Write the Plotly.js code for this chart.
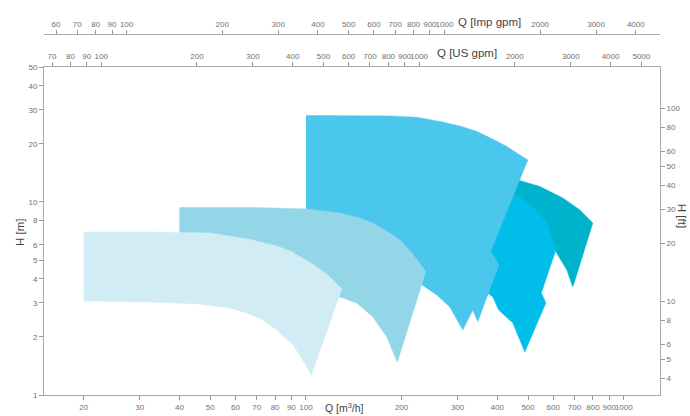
<!DOCTYPE html>
<html>
<head>
<meta charset="utf-8">
<script src="https://cdn.plot.ly/plotly-3.0.1.min.js"></script>
<style>html,body{margin:0;padding:0;background:#fff;}#chart{width:690px;height:416px;}</style>
</head>
<body>
<div id="chart"></div>
<script>
// Pump range outlines: Q [m3/h], H [m]
var Q1 = [20, 32.3, 49.8, 66.6, 81.0, 90.9, 93.6, 105.1, 110.6, 117.2, 129.7, 104, 100.6, 95.7, 90.9, 81.0, 73.2, 65.1, 57.6, 46.4, 32.3, 20];
var H1 = [6.99, 6.99, 6.91, 6.40, 5.92, 5.51, 5.31, 4.77, 4.48, 4.19, 3.54, 1.27, 1.40, 1.61, 1.82, 2.17, 2.45, 2.66, 2.82, 2.96, 3.03, 3.07];

var Q2 = [40, 66.6, 100, 127.8, 147.7, 162.3, 179.7, 197.4, 216.9, 238.3, 193.9, 179.7, 162.3, 144.5, 127.8, 110.6, 95.7, 66.6, 40];
var H2 = [9.37, 9.37, 9.20, 8.77, 8.26, 7.78, 7.07, 6.36, 5.38, 4.36, 1.48, 2.00, 2.54, 3.00, 3.22, 3.63, 4.19, 4.89, 5.31];

var Q3 = [100, 183.6, 222.8, 263.8, 304.9, 344.9, 388.1, 428.5, 470.9, 499, 381.7, 404.5, 347.4, 335.0, 311.6, 283.6, 258.1, 231.5, 204.7, 170.8, 127.8, 100];
var H3 = [28.07, 27.9, 27.47, 26.13, 24.77, 23.19, 21.13, 19.39, 17.52, 16.5, 5.57, 4.72, 2.40, 2.76, 2.17, 2.86, 3.30, 3.72, 4.29, 5.13, 5.99, 6.36];

var Q4 = [245.3, 352.5, 447.6, 517.4, 572.7, 598.3, 611.3, 550.4, 568.6, 488.3, 447.6, 404.0, 387.3, 352.5, 245.3];
var H4 = [11.54, 11.54, 11.13, 9.48, 7.78, 6.36, 5.64, 3.38, 3.00, 1.67, 2.36, 2.76, 3.22, 3.63, 4.89];

var Q5 = [327.8, 464.2, 544.4, 643.0, 727.4, 799.0, 691.5, 662.0, 606.9, 544.4, 438.0, 327.8];
var H5 = [12.85, 13.0, 12.03, 10.49, 9.09, 7.78, 3.63, 4.44, 5.64, 6.75, 7.60, 9.65];

var colors = ['#d1ecf4', '#93d6e8', '#4bc6ec', '#00bee9', '#00b3cc'];

// Tick labels
var qTicks = [20, 30, 40, 50, 60, 70, 80, 90, 100, 200, 300, 400, 500, 600, 700, 800, 900, 1000];
var usTicks = [70, 80, 90, 100, 200, 300, 400, 500, 600, 700, 800, 900, 1000, 2000, 3000, 4000, 5000];
var impTicks = [60, 70, 80, 90, 100, 200, 300, 400, 500, 600, 700, 800, 900, 1000, 2000, 3000, 4000];
var hTicks = [1, 2, 3, 4, 5, 6, 8, 10, 20, 30, 40, 50];
var ftTicks = [4, 5, 6, 8, 10, 20, 30, 40, 50, 60, 80, 100];

var Q_MIN = 15, Q_MAX = 1300, H_MIN = 1, H_MAX = 50;
var US = 4.40287, IMP = 3.66615, FT = 0.3048;

var L = Math.log10;
var shapes = [[Q5, H5], [Q4, H4], [Q3, H3], [Q2, H2], [Q1, H1]];
var shapeColors = [colors[4], colors[3], colors[2], colors[1], colors[0]];
var data = shapes.map(function (s, i) {
  return {
    type: 'scatter', mode: 'lines', x: s[0], y: s[1], fill: 'toself',
    fillcolor: shapeColors[i], line: {width: 0.5, color: shapeColors[i]},
    hoverinfo: 'skip', showlegend: false
  };
});
data.push({type: 'scatter', mode: 'lines', x: [], y: [], xaxis: 'x2', yaxis: 'y', showlegend: false});
data.push({type: 'scatter', mode: 'lines', x: [], y: [], xaxis: 'x3', yaxis: 'y', showlegend: false});
data.push({type: 'scatter', mode: 'lines', x: [], y: [], xaxis: 'x', yaxis: 'y2', showlegend: false});

var tickFont = {family: 'Liberation Sans, Arial, sans-serif', size: 8, color: '#6f6f6f'};
var titleFont = {family: 'Liberation Sans, Arial, sans-serif', size: 11.5, color: '#444'};
var axisCommon = {
  type: 'log', showgrid: false, zeroline: false, showline: true, linecolor: '#aaa', linewidth: 1,
  ticks: 'outside', ticklen: 4, tickcolor: '#999', tickfont: tickFont, tickmode: 'array', tickangle: 0
};
function ax(extra) { return Object.assign({}, axisCommon, extra); }
var TOP = 0.841;

var layout = {
  width: 690, height: 416,
  margin: {l: 44, r: 30, t: 5, b: 21},
  paper_bgcolor: '#fff', plot_bgcolor: '#fff',
  showlegend: false,
  xaxis: ax({range: [L(Q_MIN), L(Q_MAX)], tickvals: qTicks, ticktext: qTicks.map(String), anchor: 'y'}),
  xaxis2: ax({range: [L(Q_MIN * US), L(Q_MAX * US)], tickvals: usTicks, ticktext: usTicks.map(String),
    overlaying: 'x', side: 'top', anchor: 'y'}),
  xaxis3: ax({range: [L(Q_MIN * IMP), L(Q_MAX * IMP)], tickvals: impTicks, ticktext: impTicks.map(String),
    overlaying: 'x', side: 'top', anchor: 'free', position: 0.9256}),
  yaxis: ax({range: [L(H_MIN), L(H_MAX)], tickvals: hTicks, ticktext: hTicks.map(String), domain: [0, TOP], anchor: 'x'}),
  yaxis2: ax({range: [L(H_MIN / FT), L(H_MAX / FT)], tickvals: ftTicks, ticktext: ftTicks.map(String),
    overlaying: 'y', side: 'right', anchor: 'x'}),
  annotations: [
    {text: 'Q [m<sup>3</sup>/h]', xref: 'paper', yref: 'paper', x: 0.4886, y: -0.031, xanchor: 'center', yanchor: 'middle', showarrow: false, font: {family: titleFont.family, size: 10.5, color: '#444'}},
    {text: 'Q [US gpm]', xref: 'paper', yref: 'paper', x: 0.6867, y: 0.8769, xanchor: 'center', yanchor: 'middle', showarrow: false, font: titleFont},
    {text: 'Q [Imp gpm]', xref: 'paper', yref: 'paper', x: 0.724, y: 0.957, xanchor: 'center', yanchor: 'middle', showarrow: false, font: titleFont},
    {text: 'H [m]', xref: 'paper', yref: 'paper', x: -0.039, y: 0.418, xanchor: 'center', yanchor: 'middle', textangle: -90, showarrow: false, font: titleFont},
    {text: 'H [ft]', xref: 'paper', yref: 'paper', x: 1.037, y: 0.46, xanchor: 'center', yanchor: 'middle', textangle: 90, showarrow: false, font: titleFont}
  ]
};

Plotly.newPlot('chart', data, layout, {staticPlot: true, displayModeBar: false});
</script>
</body>
</html>
